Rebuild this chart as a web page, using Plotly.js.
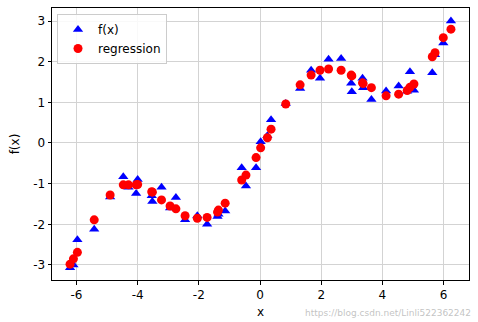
<!DOCTYPE html>
<html>
<head>
<meta charset="utf-8">
<script src="https://cdn.plot.ly/plotly-3.0.1.min.js"></script>
<style>html,body{margin:0;padding:0;background:#fff;}#chart{width:478px;height:322px;}</style>
</head>
<body>
<div id="chart"></div>
<script>
const xs = [-6.21,-6.10,-5.97,-5.42,-4.90,-4.47,-4.30,-4.00,-4.05,-3.54,-3.52,-3.22,-2.94,-2.75,-2.45,-2.05,-1.73,-1.39,-1.36,-1.14,-0.60,-0.46,-0.13,0.02,0.24,0.36,0.84,1.31,1.67,1.96,2.24,2.65,2.98,3.00,3.35,3.37,3.64,4.12,4.53,4.81,4.90,5.03,5.63,5.72,5.99,6.24];
const fx = [-3.07,-3.00,-2.38,-2.12,-1.33,-0.83,-1.09,-0.90,-1.24,-1.30,-1.44,-1.09,-1.60,-1.34,-1.89,-1.79,-2.00,-1.81,-1.75,-1.67,-0.61,-1.06,-0.61,0.03,0.18,0.57,0.97,1.34,1.79,1.59,2.06,2.08,1.47,1.26,1.59,1.36,1.07,1.28,1.40,1.27,1.75,1.30,1.73,2.17,2.46,3.00];
const reg = [-2.98,-2.85,-2.69,-1.89,-1.28,-1.03,-1.03,-1.02,-1.03,-1.20,-1.21,-1.40,-1.55,-1.62,-1.79,-1.85,-1.83,-1.70,-1.65,-1.48,-0.91,-0.79,-0.36,-0.12,0.13,0.34,0.96,1.43,1.67,1.79,1.82,1.79,1.67,1.65,1.48,1.46,1.36,1.16,1.20,1.29,1.37,1.45,2.12,2.22,2.59,2.80];
const xTicks = [-6,-4,-2,0,2,4,6];
const yTicks = [-3,-2,-1,0,1,2,3];

const font = {family: 'DejaVu Sans, sans-serif', size: 12, color: '#000'};
const axisCommon = {
  showline: true, mirror: true, linecolor: '#000', linewidth: 1,
  ticks: 'outside', ticklen: 3.5, tickwidth: 1, tickcolor: '#000',
  showgrid: true, gridcolor: '#d3d3d3', gridwidth: 1, zeroline: false,
  tickmode: 'array', tickfont: font
};
const data = [
  {x: xs, y: fx, mode: 'markers', type: 'scatter', name: 'f(x)',
   marker: {symbol: 'triangle-up', color: '#0000ff', size: 9}},
  {x: xs, y: reg, mode: 'markers', type: 'scatter', name: 'regression',
   marker: {symbol: 'circle', color: '#ff0000', size: 9}}
];
const layout = {
  width: 478, height: 322,
  margin: {l: 52, r: 9, t: 8, b: 42},
  paper_bgcolor: '#fff', plot_bgcolor: '#fff',
  font: font,
  xaxis: Object.assign({}, axisCommon, {range: [-6.8, 6.83], tickvals: xTicks,
    ticktext: xTicks.map(String), title: {text: 'x', font: font, standoff: 6}}),
  yaxis: Object.assign({}, axisCommon, {range: [-3.37, 3.32], tickvals: yTicks,
    ticktext: yTicks.map(String), title: {text: 'f(x)', font: font, standoff: 10}}),
  showlegend: true,
  legend: {x: 0.012, y: 0.978, xanchor: 'left', yanchor: 'top',
    bgcolor: 'rgba(255,255,255,0.85)', bordercolor: '#cccccc', borderwidth: 1,
    font: font, itemwidth: 30, tracegroupgap: 0},
  annotations: [{text: 'https://blog.csdn.net/Linli522362242', xref: 'paper', yref: 'paper',
    x: 1.01, y: -0.122, xanchor: 'right', yanchor: 'middle', showarrow: false,
    font: {family: 'DejaVu Sans, sans-serif', size: 9, color: 'rgba(180,180,180,0.8)'}}]
};
Plotly.newPlot('chart', data, layout, {displayModeBar: false, staticPlot: true});
</script>
</body>
</html>
